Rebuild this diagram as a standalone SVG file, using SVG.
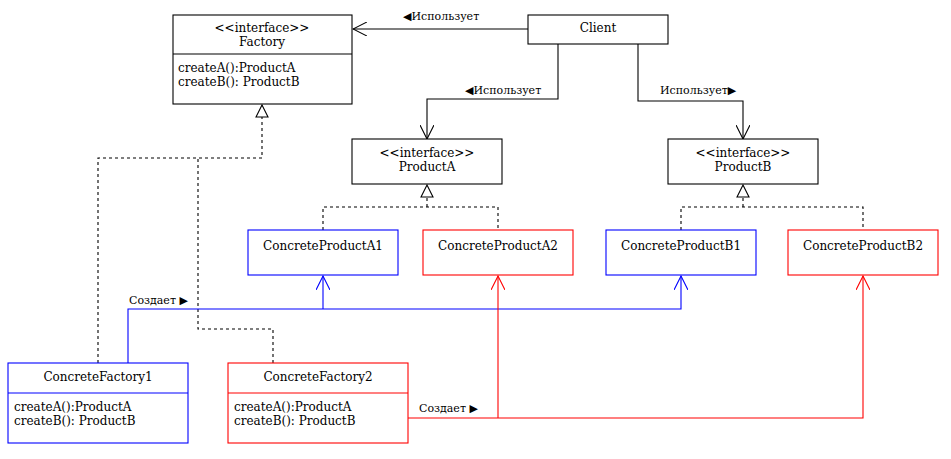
<svg xmlns="http://www.w3.org/2000/svg" width="951" height="459" viewBox="0 0 951 459">
<style>
  .box { fill: #fff; stroke: #000; stroke-width: 1.1; }
  .t { font-family: "DejaVu Serif", "Liberation Serif", serif; font-size: 12px; fill: #000; }
  .c { text-anchor: middle; }
  .lbl { font-family: "DejaVu Serif", "Liberation Serif", serif; font-size: 11px; fill: #000; }
  .ln { fill: none; stroke: #000; stroke-width: 1.1; }
  .dash { stroke-dasharray: 3 3; }
  .blue { stroke: #0000ff; }
  .red { stroke: #ff0000; }
</style>
<defs>
  <marker id="openK" viewBox="0 0 15 14" refX="14" refY="7" markerWidth="15" markerHeight="14" markerUnits="userSpaceOnUse" orient="auto">
    <path d="M0,0 L14,7 L0,14" fill="none" stroke="#000" stroke-width="1.1"/>
  </marker>
  <marker id="openB" viewBox="0 0 15 14" refX="14" refY="7" markerWidth="15" markerHeight="14" markerUnits="userSpaceOnUse" orient="auto">
    <path d="M0,0 L14,7 L0,14" fill="none" stroke="#0000ff" stroke-width="1.1"/>
  </marker>
  <marker id="openR" viewBox="0 0 15 14" refX="14" refY="7" markerWidth="15" markerHeight="14" markerUnits="userSpaceOnUse" orient="auto">
    <path d="M0,0 L14,7 L0,14" fill="none" stroke="#ff0000" stroke-width="1.1"/>
  </marker>
  <marker id="tri" viewBox="-1 -1 14 14" refX="12" refY="6" markerWidth="14" markerHeight="14" markerUnits="userSpaceOnUse" orient="auto">
    <path d="M0,0 L12,6 L0,12 Z" fill="#fff" stroke="#000" stroke-width="1.1"/>
  </marker>
</defs>

<g id="connectors">
  <path class="ln" d="M528,29 L353,29" marker-end="url(#openK)"/>
  <path class="ln" d="M558,44 V99 H427 V139" marker-end="url(#openK)"/>
  <path class="ln" d="M638,44 V101 H743 V139" marker-end="url(#openK)"/>
  <path class="ln dash" d="M323,230 V207 H498 V230"/>
  <path class="ln dash" d="M427,207 V185" marker-end="url(#tri)"/>
  <path class="ln dash" d="M681,230 V207 H863 V230"/>
  <path class="ln dash" d="M743,207 V185" marker-end="url(#tri)"/>
  <path class="ln dash" d="M98,363 V158 H262 V105" marker-end="url(#tri)"/>
  <path class="ln dash" d="M273,363 V329 H198 V158"/>
  <path class="ln blue" d="M128,363 V309 H681 V276" marker-end="url(#openB)"/>
  <path class="ln blue" d="M323,309 V276" marker-end="url(#openB)"/>
  <path class="ln red" d="M408,418 H863 V276" marker-end="url(#openR)"/>
  <path class="ln red" d="M498,418 V276" marker-end="url(#openR)"/>
  <text class="lbl" x="403" y="20">◀Использует</text>
  <text class="lbl" x="465" y="94">◀Использует</text>
  <text class="lbl" x="660" y="94">Использует▶</text>
  <text class="lbl" x="129" y="304">Создает ▶</text>
  <text class="lbl" x="419" y="412">Создает ▶</text>
</g>

<g id="Factory">
  <rect class="box" x="173" y="15" width="179" height="89"/>
  <line class="ln" x1="173" y1="54" x2="352" y2="54"/>
  <text class="t c" x="262" y="32">&lt;&lt;interface&gt;&gt;</text>
  <text class="t c" x="262" y="46">Factory</text>
  <text class="t" x="178" y="72">createA():ProductA</text>
  <text class="t" x="178" y="86">createB(): ProductB</text>
</g>

<g id="Client">
  <rect class="box" x="528" y="15" width="140" height="29"/>
  <text class="t c" x="598" y="32">Client</text>
</g>

<g id="ProductA">
  <rect class="box" x="352" y="139" width="150" height="45"/>
  <text class="t c" x="427" y="157">&lt;&lt;interface&gt;&gt;</text>
  <text class="t c" x="427" y="171">ProductA</text>
</g>

<g id="ProductB">
  <rect class="box" x="668" y="139" width="150" height="45"/>
  <text class="t c" x="743" y="157">&lt;&lt;interface&gt;&gt;</text>
  <text class="t c" x="743" y="171">ProductB</text>
</g>

<g id="ConcreteProductA1">
  <rect class="box blue" x="248" y="230" width="150" height="45"/>
  <text class="t c" x="323" y="250">ConcreteProductA1</text>
</g>

<g id="ConcreteProductA2">
  <rect class="box red" x="423" y="230" width="150" height="45"/>
  <text class="t c" x="498" y="250">ConcreteProductA2</text>
</g>

<g id="ConcreteProductB1">
  <rect class="box blue" x="606" y="230" width="150" height="45"/>
  <text class="t c" x="681" y="250">ConcreteProductB1</text>
</g>

<g id="ConcreteProductB2">
  <rect class="box red" x="788" y="230" width="150" height="45"/>
  <text class="t c" x="863" y="250">ConcreteProductB2</text>
</g>

<g id="ConcreteFactory1">
  <rect class="box blue" x="8" y="363" width="180" height="80"/>
  <line class="ln blue" x1="8" y1="393" x2="188" y2="393"/>
  <text class="t c" x="98" y="381">ConcreteFactory1</text>
  <text class="t" x="14" y="411">createA():ProductA</text>
  <text class="t" x="14" y="425">createB(): ProductB</text>
</g>

<g id="ConcreteFactory2">
  <rect class="box red" x="228" y="363" width="180" height="80"/>
  <line class="ln red" x1="228" y1="393" x2="408" y2="393"/>
  <text class="t c" x="318" y="381">ConcreteFactory2</text>
  <text class="t" x="234" y="411">createA():ProductA</text>
  <text class="t" x="234" y="425">createB(): ProductB</text>
</g>
</svg>
